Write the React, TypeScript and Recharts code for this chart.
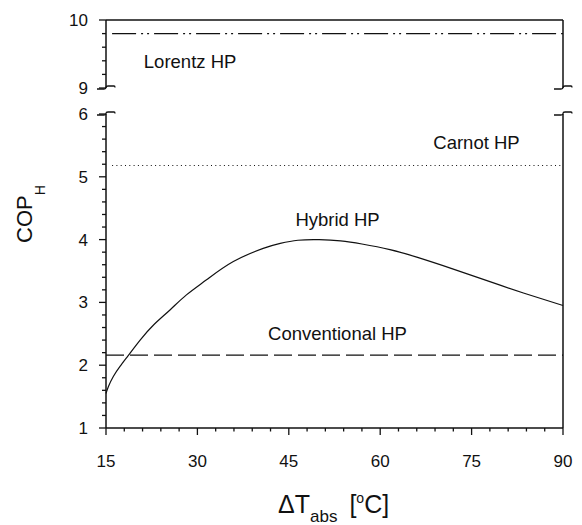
import { LineChart, Line, XAxis, YAxis, ReferenceLine, ReferenceDot } from "recharts";

document.body.style.margin = "0";

const FONT = '"Liberation Sans", Arial, sans-serif';

// hybrid HP curve
const dT = [15, 15.4, 16.2, 17.3, 18.7, 20.6, 22.8, 25.5, 28.2, 31.5, 35.9, 40.8, 43.6, 46.5, 50, 53.5, 57, 61.6, 66, 72, 78, 83.5, 90];
const hybridCop = [1.55, 1.66, 1.82, 1.98, 2.16, 2.4, 2.64, 2.88, 3.12, 3.36, 3.65, 3.86, 3.94, 3.99, 4.0, 3.98, 3.93, 3.84, 3.72, 3.53, 3.33, 3.15, 2.95];

// constant reference cycles
const lorentzT = [16, 90];
const lorentzCop = [9.8, 9.8];
const carnotT = [16, 90];
const carnotCop = [5.18, 5.18];
const convT = [15, 90];
const convCop = [2.16, 2.16];

const xTicks = [15, 18, 21, 24, 27, 30, 33, 36, 39, 42, 45, 48, 51, 54, 57, 60, 63, 66, 69, 72, 75, 78, 81, 84, 87, 90];
const yTicksTop = [9, 9.2, 9.4, 9.6, 9.8, 10];
const yTicksBottom = [1, 1.2, 1.4, 1.6, 1.8, 2, 2.2, 2.4, 2.6, 2.8, 3, 3.2, 3.4, 3.6, 3.8, 4, 4.2, 4.4, 4.6, 4.8, 5, 5.2, 5.4, 5.6, 5.8, 6];

const hybrid = dT.map((t, i) => ({ t, cop: hybridCop[i] }));
const lorentz = lorentzT.map((t, i) => ({ t, cop: lorentzCop[i] }));
const carnot = carnotT.map((t, i) => ({ t, cop: carnotCop[i] }));
const conventional = convT.map((t, i) => ({ t, cop: convCop[i] }));

const INK = "#111";

const YTick = (props: any) => {
  const { x, y, payload } = props;
  const major = Number.isInteger(payload.value);
  return (
    <g>
      <line x1={x - (major ? 7 : 4)} y1={y} x2={x} y2={y} stroke={INK} strokeWidth={1.3} />
      {major && (
        <text x={x - 18} y={y} dy={6} textAnchor="end" fontSize={17} fontFamily={FONT} fill={INK}>
          {payload.value}
        </text>
      )}
    </g>
  );
};

const XTick = (props: any) => {
  const { x, y, payload } = props;
  const major = payload.value % 15 === 0;
  return (
    <g>
      <line x1={x} y1={y} x2={x} y2={y + (major ? 7 : 3.5)} stroke={INK} strokeWidth={1.3} />
      {major && (
        <text x={x} y={y + 39} textAnchor="middle" fontSize={17} fontFamily={FONT} fill={INK}>
          {payload.value}
        </text>
      )}
    </g>
  );
};

const note = (value: string) => ({ value, position: "center" as const, fontSize: 18.5, fontFamily: FONT, fill: INK });

const squiggle = (x: number, y: number) =>
  `M ${x - 9} ${y + 1} L ${x - 2} ${y + 1} Q ${x} ${y + 1} ${x} ${y - 0.5} Q ${x} ${y - 2} ${x + 2} ${y - 2} L ${x + 8} ${y - 2} Q ${x + 9} ${y - 2} ${x + 9} ${y - 0.5}`;

export default function App() {
  return (
    <div style={{ position: "relative", width: 582, height: 525, background: "#fff", fontFamily: FONT }}>
      <div style={{ position: "absolute", left: 0, top: 0 }}>
        <LineChart width={582} height={110} margin={{ top: 20, right: 19, bottom: 22, left: 0 }}>
          <XAxis type="number" dataKey="t" domain={[15, 90]} hide />
          <YAxis
            type="number"
            domain={[9, 10]}
            ticks={yTicksTop}
            width={106}
            tickSize={0}
            tickMargin={0}
            tickLine={false}
            tick={<YTick />}
            axisLine={{ stroke: INK, strokeWidth: 1.5 }}
            interval={0}
          />
          <ReferenceLine y={10} stroke={INK} strokeWidth={1.5} />
          <ReferenceLine x={90} stroke={INK} strokeWidth={1.5} />
          <Line data={lorentz} dataKey="cop" stroke={INK} strokeWidth={1.2} strokeDasharray="24 5 2 4 2 5" dot={false} isAnimationActive={false} />
          <ReferenceDot x={28.8} y={9.39} r={0} fill="none" stroke="none" label={note("Lorentz HP")} />
        </LineChart>
      </div>
      <div style={{ position: "absolute", left: 0, top: 0 }}>
        <LineChart width={582} height={525} margin={{ top: 114, right: 19, bottom: 57, left: 0 }}>
          <XAxis
            type="number"
            dataKey="t"
            domain={[15, 90]}
            ticks={xTicks}
            height={40}
            tickSize={0}
            tickMargin={0}
            tickLine={false}
            tick={<XTick />}
            axisLine={{ stroke: INK, strokeWidth: 1.5 }}
            interval={0}
          />
          <YAxis
            type="number"
            domain={[1, 6]}
            ticks={yTicksBottom}
            width={106}
            tickSize={0}
            tickMargin={0}
            tickLine={false}
            tick={<YTick />}
            axisLine={{ stroke: INK, strokeWidth: 1.5 }}
            interval={0}
          />
          <ReferenceLine x={90} stroke={INK} strokeWidth={1.5} />
          <Line data={carnot} dataKey="cop" stroke={INK} strokeWidth={1.2} strokeDasharray="1 3.3" dot={false} isAnimationActive={false} />
          <Line data={conventional} dataKey="cop" stroke={INK} strokeWidth={1.2} strokeDasharray="18 6" dot={false} isAnimationActive={false} />
          <Line data={hybrid} dataKey="cop" type="natural" stroke={INK} strokeWidth={1.2} dot={false} isAnimationActive={false} />
          <ReferenceDot x={75.8} y={5.55} r={0} fill="none" stroke="none" label={note("Carnot HP")} />
          <ReferenceDot x={53} y={4.32} r={0} fill="none" stroke="none" label={note("Hybrid HP")} />
          <ReferenceDot x={53} y={2.51} r={0} fill="none" stroke="none" label={note("Conventional HP")} />
        </LineChart>
      </div>
      <svg width={582} height={525} style={{ position: "absolute", left: 0, top: 0, pointerEvents: "none" }}>
        <g fill="none" stroke={INK} strokeWidth={1.3}>
          <path d={squiggle(106, 88)} />
          <path d={squiggle(106, 114)} />
          <path d={squiggle(563, 88)} />
          <path d={squiggle(563, 114)} />
        </g>
        <text x={32} y={243} transform="rotate(-90 32 243)" fontSize={22} fontFamily={FONT} fill={INK}>
          COP
          <tspan fontSize={14} dy={13}>H</tspan>
        </text>
        <text x={278} y={513} fontSize={25} fontFamily={FONT} fill={INK}>
          ΔT
          <tspan fontSize={17} dy={9}>abs</tspan>
          <tspan fontSize={25} dy={-9} dx={12}>[</tspan>
          <tspan fontSize={14} dy={-10}>o</tspan>
          <tspan fontSize={25} dy={10}>C]</tspan>
        </text>
      </svg>
    </div>
  );
}
